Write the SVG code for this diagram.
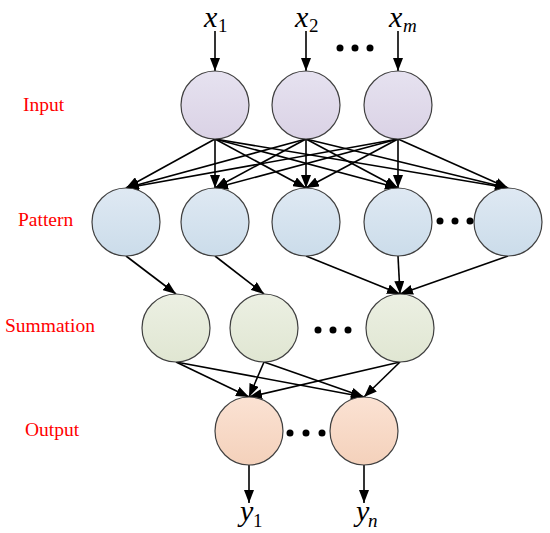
<svg xmlns="http://www.w3.org/2000/svg" width="550" height="533" viewBox="0 0 550 533">
<defs>
<linearGradient id="gIn" x1="0" y1="0" x2="0" y2="1"><stop offset="0" stop-color="#e6e2f0"/><stop offset="1" stop-color="#dad2e5"/></linearGradient>
<linearGradient id="gPat" x1="0" y1="0" x2="0" y2="1"><stop offset="0" stop-color="#dfe9f3"/><stop offset="1" stop-color="#cbdcea"/></linearGradient>
<linearGradient id="gSum" x1="0" y1="0" x2="0" y2="1"><stop offset="0" stop-color="#ecf0e3"/><stop offset="1" stop-color="#e0e6d2"/></linearGradient>
<linearGradient id="gOut" x1="0" y1="0" x2="0" y2="1"><stop offset="0" stop-color="#fbe2d3"/><stop offset="1" stop-color="#f4d1bb"/></linearGradient>
<marker id="arr" viewBox="0 0 13 10" refX="13" refY="5" markerWidth="13" markerHeight="10" markerUnits="userSpaceOnUse" orient="auto">
<path d="M0,0 L13,5 L0,10 Z" fill="#000"/>
</marker>
</defs>
<style>
.node circle{stroke:#404040;stroke-width:1.2}
.in circle{fill:url(#gIn)}
.pat circle{fill:url(#gPat)}
.sum circle{fill:url(#gSum)}
.out circle{fill:url(#gOut)}
.edges line{stroke:#000;stroke-width:1.6;marker-end:url(#arr)}
.lbl{font-size:19.5px;fill:#ff0000}
.v{font-style:italic;font-size:30px;fill:#000}
.s{font-size:19px;fill:#000}
.si{font-style:italic;font-size:19px;fill:#000}
.dot{fill:#000}
</style>
<rect width="550" height="533" fill="#fff"/>

<g id="layer-labels" font-family="Liberation Serif, Times New Roman, serif">
<text class="lbl" x="23" y="111">Input</text>
<text class="lbl" x="18" y="226">Pattern</text>
<text class="lbl" x="5" y="332">Summation</text>
<text class="lbl" x="25" y="436">Output</text>
</g>

<g id="edges" class="edges">
<line x1="215" y1="31" x2="215" y2="71"/>
<line x1="306" y1="31" x2="306" y2="71"/>
<line x1="398" y1="31" x2="398" y2="71"/>
<line x1="215" y1="139" x2="126" y2="188"/>
<line x1="215" y1="139" x2="215" y2="188"/>
<line x1="215" y1="139" x2="306" y2="188"/>
<line x1="215" y1="139" x2="398" y2="188"/>
<line x1="215" y1="139" x2="508" y2="188"/>
<line x1="306" y1="139" x2="126" y2="188"/>
<line x1="306" y1="139" x2="215" y2="188"/>
<line x1="306" y1="139" x2="306" y2="188"/>
<line x1="306" y1="139" x2="398" y2="188"/>
<line x1="306" y1="139" x2="508" y2="188"/>
<line x1="398" y1="139" x2="126" y2="188"/>
<line x1="398" y1="139" x2="215" y2="188"/>
<line x1="398" y1="139" x2="306" y2="188"/>
<line x1="398" y1="139" x2="398" y2="188"/>
<line x1="398" y1="139" x2="508" y2="188"/>
<line x1="126" y1="256" x2="176" y2="294"/>
<line x1="215" y1="256" x2="264" y2="294"/>
<line x1="306" y1="256" x2="400" y2="294"/>
<line x1="398" y1="256" x2="400" y2="294"/>
<line x1="508" y1="256" x2="400" y2="294"/>
<line x1="176" y1="362" x2="249" y2="397"/>
<line x1="176" y1="362" x2="364" y2="397"/>
<line x1="264" y1="362" x2="249" y2="397"/>
<line x1="264" y1="362" x2="364" y2="397"/>
<line x1="400" y1="362" x2="249" y2="397"/>
<line x1="400" y1="362" x2="364" y2="397"/>
<line x1="249" y1="465" x2="249" y2="503"/>
<line x1="364" y1="465" x2="364" y2="503"/>
</g>

<g id="in1" class="node in"><circle cx="215" cy="105" r="34"/></g>
<g id="in2" class="node in"><circle cx="306" cy="105" r="34"/></g>
<g id="in3" class="node in"><circle cx="398" cy="105" r="34"/></g>

<g id="pat1" class="node pat"><circle cx="126" cy="222" r="34"/></g>
<g id="pat2" class="node pat"><circle cx="215" cy="222" r="34"/></g>
<g id="pat3" class="node pat"><circle cx="306" cy="222" r="34"/></g>
<g id="pat4" class="node pat"><circle cx="398" cy="222" r="34"/></g>
<g id="pat5" class="node pat"><circle cx="508" cy="222" r="34"/></g>

<g id="sum1" class="node sum"><circle cx="176" cy="328" r="34"/></g>
<g id="sum2" class="node sum"><circle cx="264" cy="328" r="34"/></g>
<g id="sum3" class="node sum"><circle cx="400" cy="328" r="34"/></g>

<g id="out1" class="node out"><circle cx="249" cy="431" r="34"/></g>
<g id="out2" class="node out"><circle cx="364" cy="431" r="34"/></g>

<g id="dots">
<circle class="dot" cx="340" cy="48" r="3.5"/><circle class="dot" cx="355" cy="48" r="3.5"/><circle class="dot" cx="370" cy="48" r="3.5"/>
<circle class="dot" cx="440" cy="221" r="3.5"/><circle class="dot" cx="455" cy="221" r="3.5"/><circle class="dot" cx="470" cy="221" r="3.5"/>
<circle class="dot" cx="318" cy="330" r="3.5"/><circle class="dot" cx="333" cy="330" r="3.5"/><circle class="dot" cx="348" cy="330" r="3.5"/>
<circle class="dot" cx="290" cy="433" r="3.5"/><circle class="dot" cx="306" cy="433" r="3.5"/><circle class="dot" cx="322" cy="433" r="3.5"/>
</g>

<g id="var-labels" font-family="Liberation Serif, Times New Roman, serif">
<text class="v" x="204" y="27">x</text><text class="s" x="218" y="32">1</text>
<text class="v" x="295" y="27">x</text><text class="s" x="309" y="32">2</text>
<text class="v" x="389" y="27">x</text><text class="si" x="403" y="32">m</text>
<text class="v" x="240" y="521">y</text><text class="s" x="253" y="527">1</text>
<text class="v" x="356" y="521">y</text><text class="si" x="368" y="527">n</text>
</g>
</svg>
